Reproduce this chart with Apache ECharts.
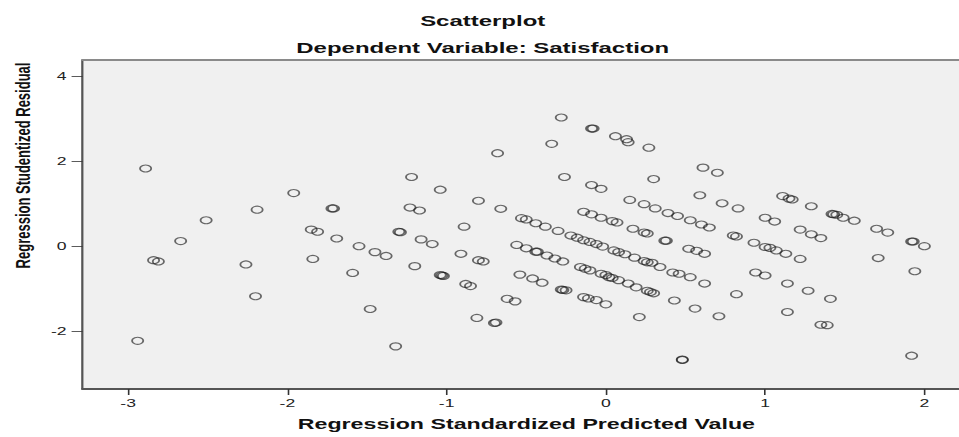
<!DOCTYPE html>
<html>
<head>
<meta charset="utf-8">
<script src="https://cdn.jsdelivr.net/npm/echarts@6/dist/echarts.min.js"></script>
<style>
html,body{margin:0;padding:0;background:#fff;overflow:hidden;}
#wrap{width:959px;height:437px;overflow:hidden;position:relative;}
#chart{width:600px;height:437px;transform:scaleX(1.598333);transform-origin:0 0;}
</style>
</head>
<body>
<div id="wrap"><div id="chart"></div></div>
<script>
// Regression standardized predicted values (x)
const predicted = [
-2.89,-2.51,-2.19,-1.96,-1.72,-1.71,-2.67,-2.84,-2.81,-2.26,-2.20,-2.94,-1.85,-1.81,-1.69,-1.55,-1.84,-1.59,-1.48,
-1.22,-1.04,-0.68,-0.80,-0.66,-1.23,-1.17,-0.89,-1.30,-1.29,-1.16,-1.09,-1.45,-1.38,-0.91,-0.80,-0.77,-1.20,-1.04,-1.02,-1.03,
-0.88,-0.85,-0.62,-0.57,-0.81,-0.69,-0.70,-1.32,
-0.28,-0.09,-0.08,0.06,0.13,0.14,0.27,-0.34,-0.26,-0.09,-0.03,0.30,0.15,0.24,0.31,0.39,0.45,0.53,0.60,0.65,
0.61,0.70,0.59,0.73,0.83,1.11,1.15,1.17,1.29,1.43,1.42,1.45,1.49,1.56,1.00,1.06,
-0.53,-0.50,-0.44,-0.38,-0.30,-0.14,-0.09,-0.03,0.04,0.07,-0.22,-0.18,-0.14,-0.10,-0.06,-0.02,0.05,0.08,0.12,0.18,
0.24,0.26,0.29,0.34,0.17,0.24,0.26,0.37,0.38,0.52,0.57,0.62,0.80,0.82,0.93,1.00,1.03,1.07,1.13,1.22,1.29,1.35,1.22,
1.70,1.77,1.92,1.93,2.00,1.71,1.94,
-0.56,-0.50,-0.44,-0.43,-0.37,-0.32,-0.27,-0.16,-0.13,-0.10,-0.03,0.00,0.02,0.04,0.08,0.14,0.19,0.26,0.28,0.30,
0.42,0.46,0.53,0.62,0.94,1.00,1.14,1.27,1.41,0.82,
-0.54,-0.46,-0.40,-0.28,-0.27,-0.25,-0.14,-0.11,-0.06,0.00,0.21,0.43,0.56,0.71,1.14,1.35,1.39,0.48,0.48,1.92
];
// Regression studentized residuals (y)
const residual = [
1.83,0.61,0.86,1.25,0.89,0.89,0.12,-0.33,-0.36,-0.43,-1.18,-2.23,0.39,0.34,0.18,0.00,-0.30,-0.63,-1.48,
1.63,1.33,2.19,1.07,0.88,0.91,0.84,0.46,0.34,0.33,0.16,0.05,-0.14,-0.23,-0.18,-0.33,-0.36,-0.47,-0.68,-0.70,-0.69,
-0.89,-0.94,-1.24,-1.30,-1.69,-1.80,-1.81,-2.36,
3.03,2.77,2.77,2.59,2.52,2.45,2.32,2.41,1.63,1.44,1.35,1.58,1.09,0.99,0.89,0.78,0.71,0.61,0.51,0.44,
1.85,1.73,1.20,1.01,0.89,1.18,1.12,1.10,0.94,0.75,0.76,0.74,0.67,0.60,0.67,0.58,
0.66,0.63,0.54,0.46,0.36,0.81,0.75,0.67,0.59,0.56,0.25,0.20,0.14,0.10,0.05,-0.01,-0.10,-0.14,-0.19,-0.27,
-0.35,-0.38,-0.39,-0.49,0.41,0.32,0.30,0.13,0.13,-0.06,-0.11,-0.18,0.25,0.23,0.08,-0.02,-0.04,-0.10,-0.18,0.39,0.28,0.19,-0.30,
0.41,0.32,0.11,0.11,0.00,-0.28,-0.59,
0.03,-0.05,-0.13,-0.13,-0.22,-0.29,-0.36,-0.49,-0.53,-0.57,-0.65,-0.68,-0.73,-0.75,-0.80,-0.88,-0.97,-1.05,-1.08,-1.11,
-0.62,-0.65,-0.73,-0.88,-0.62,-0.69,-0.88,-1.05,-1.24,-1.13,
-0.67,-0.76,-0.86,-1.02,-1.03,-1.04,-1.20,-1.23,-1.27,-1.37,-1.67,-1.28,-1.47,-1.65,-1.55,-1.85,-1.86,-2.68,-2.67,-2.58
];
const xTicks = [-3,-2,-1,0,1,2];
const yTicks = [-2,0,2,4];

const points = predicted.map((v,i)=>[v, residual[i]]);
const FONT = "'Liberation Sans', Arial, sans-serif";
const chart = echarts.init(document.getElementById('chart'), null, {renderer:'svg'});
chart.setOption({
  animation:false,
  backgroundColor:'#ffffff',
  title:[
    {text:'Scatterplot', left:302, top:13, textAlign:'center', padding:0,
     textStyle:{fontFamily:FONT, fontSize:15, fontWeight:'bold', color:'#111'}},
    {text:'Dependent Variable: Satisfaction', left:302, top:40, textAlign:'center', padding:0,
     textStyle:{fontFamily:FONT, fontSize:15, fontWeight:'bold', color:'#111'}}
  ],
  grid:{left:45.7, right:0, top:60, bottom:43, show:true, backgroundColor:'#f0f0f0', borderWidth:0},
  xAxis:[{
    type:'value', min:-3.2857, max:2.2174, position:'bottom',
    name:'Regression Standardized Predicted Value', nameLocation:'middle', nameGap:28,
    nameTextStyle:{fontFamily:FONT, fontSize:14.5, fontWeight:'bold', color:'#111', padding:[0,0,0,7]},
    axisLine:{show:true, onZero:false, lineStyle:{color:'#555', width:2}},
    axisTick:{show:true, length:6, customValues:xTicks, lineStyle:{color:'#333', width:1}},
    axisLabel:{show:true, customValues:xTicks, margin:9, fontFamily:FONT, fontSize:11, color:'#222'},
    splitLine:{show:false}
  },{
    type:'value', min:-3.2857, max:2.2174, position:'top',
    axisLine:{show:true, onZero:false, lineStyle:{color:'#8a8a8a', width:2}},
    axisTick:{show:false}, axisLabel:{show:false}, splitLine:{show:false}
  }],
  yAxis:{
    type:'value', min:-3.364, max:4.385,
    name:'Regression Studentized Residual', nameLocation:'middle', nameGap:26, nameRotate:90,
    nameTextStyle:{fontFamily:FONT, fontSize:13, fontWeight:'bold', color:'#111', padding:[0,0,0,118]},
    axisLine:{show:true, onZero:false, lineStyle:{color:'#555', width:1.4}},
    axisTick:{show:true, length:6.9, customValues:yTicks, lineStyle:{color:'#333', width:0.8}},
    axisLabel:{show:true, customValues:yTicks, margin:10, fontFamily:FONT, fontSize:11, color:'#222'},
    splitLine:{show:false}
  },
  series:[{
    type:'scatter', xAxisIndex:0, data:points, symbol:'circle', symbolSize:7,
    itemStyle:{color:'rgba(0,0,0,0)', borderColor:'rgba(25,25,25,0.8)', borderWidth:1.1},
    emphasis:{disabled:true}
  }]
});
</script>
</body>
</html>
